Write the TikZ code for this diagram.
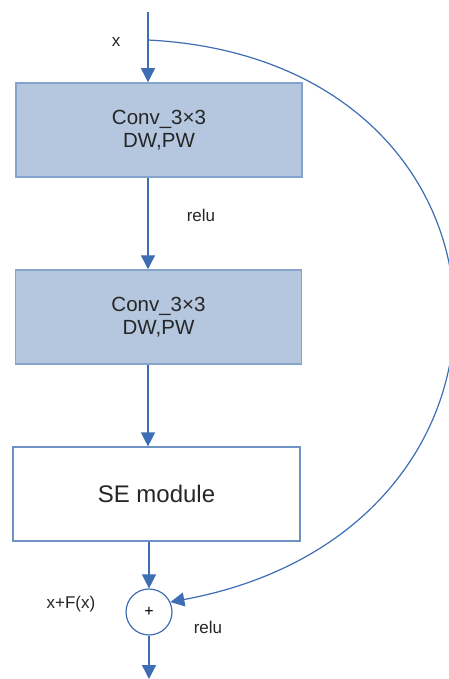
\documentclass[tikz,border=0pt]{standalone}
\usepackage{fontspec}
\setmainfont{Liberation Sans}
\usetikzlibrary{arrows.meta}
\definecolor{linec}{HTML}{3D6DB3}
\definecolor{boxfill}{HTML}{B4C7DF}
\definecolor{boxdraw}{HTML}{86A3CC}
\definecolor{sedraw}{HTML}{6F92C4}
\begin{document}
\begin{tikzpicture}[x=1pt,y=-1pt,
  conv/.style={draw=boxdraw,fill=boxfill,line width=1.5pt,minimum width=286pt,minimum height=94pt,inner sep=0pt,align=center,font=\fontsize{20.5}{23}\selectfont,text=black!85},
  sebox/.style={draw=sedraw,fill=white,line width=1.2pt,minimum width=287pt,minimum height=94pt,inner sep=0pt,font=\fontsize{24}{24}\selectfont,text=black!85},
  sumc/.style={circle,draw=linec,line width=1.2pt,minimum size=46pt,inner sep=0pt,font=\fontsize{16}{16}\selectfont},
  lbl/.style={font=\fontsize{17}{17}\selectfont,text=black!85,inner sep=0pt},
  conn/.style={draw=linec,line width=1.4pt,-{Triangle[width=14pt,length=14pt]}},
  skip/.style={draw=linec,line width=1.2pt,-{Triangle[width=14pt,length=14pt]}}]
\useasboundingbox (0,0) rectangle (448,679);
\coordinate (top) at (148,12);
\coordinate (split) at (148,40);
\node[conv] (c1) at (159,130) {Conv\_3×3\\DW,PW};
\node[conv] (c2) at (158.5,317) {Conv\_3×3\\DW,PW};
\node[sebox] (se) at (156.5,494) {SE module};
\node[sumc] (sum) at (149,612) {+};
\coordinate (out) at (149,679);
\node[lbl] (lx) at (116,42) {x};
\node[lbl] (lr1) at (201,215) {relu};
\node[lbl] (lxf) at (71,604) {x+F(x)};
\node[lbl] (lr2) at (208,627) {relu};
\draw[conn] (top) -- (top |- c1.north);
\draw[conn] (c1.south -| top) -- (c2.north -| top);
\draw[conn] (c2.south -| top) -- (se.north -| top);
\draw[conn] (se.south -| sum) -- (sum.north);
\draw[conn] (sum.south) -- (out);
\draw[skip] (split) .. controls (540,60) and (560,530) .. (sum.25);
\end{tikzpicture}
\end{document}
